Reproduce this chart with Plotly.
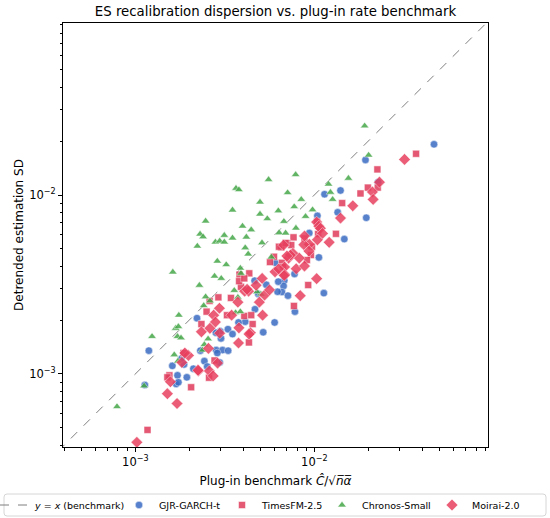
import plotly.graph_objects as go

# ---- data ----
garch_x = [46.6e-3, 19.3e-3, 22.7e-3, 14.0e-3, 11.4e-3, 13.5e-3, 19.5e-3, 10.4e-3, 9.37e-3, 14.7e-3,
           10.6e-3, 7.75e-3, 6.79e-3, 6.73e-3, 6.59e-3, 7.12e-3, 11.3e-3, 7.79e-3, 6.29e-3, 5.39e-3,
           6.23e-3, 6.00e-3, 5.18e-3, 4.64e-3, 4.66e-3, 4.11e-3, 3.77e-3, 3.29e-3, 2.98e-3, 2.82e-3,
           3.01e-3, 6.05e-3, 3.49e-3, 2.83e-3, 3.07e-3, 3.30e-3, 2.87e-3, 2.31e-3, 2.43e-3, 2.52e-3,
           2.96e-3, 2.11e-3, 1.87e-3, 1.61e-3, 1.72e-3, 1.69e-3, 1.74e-3, 1.94e-3, 2.21e-3, 1.19e-3,
           1.13e-3, 1.81e-3, 4.86e-3]
garch_y = [19.2e-3, 15.7e-3, 11.8e-3, 10.6e-3, 10.1e-3, 8.0e-3, 7.46e-3, 7.65e-3, 6.13e-3, 5.67e-3,
           4.48e-3, 3.62e-3, 3.33e-3, 3.10e-3, 2.87e-3, 2.74e-3, 2.83e-3, 2.23e-3, 3.28e-3, 3.15e-3,
           2.88e-3, 1.94e-3, 1.71e-3, 3.32e-3, 2.30e-3, 1.96e-3, 1.94e-3, 1.78e-3, 1.73e-3, 1.70e-3,
           1.58e-3, 4.18e-3, 1.67e-3, 1.36e-3, 1.36e-3, 1.35e-3, 1.31e-3, 1.35e-3, 1.18e-3, 1.10e-3,
           1.16e-3, 1.07e-3, 1.13e-3, 1.11e-3, 0.983e-3, 0.879e-3, 0.899e-3, 0.958e-3, 2.05e-3, 1.35e-3,
           0.868e-3, 1.22e-3, 2.80e-3]

timesfm_x = [37.0e-3, 22.5e-3, 19.9e-3, 22.6e-3, 18.1e-3, 14.3e-3, 13.2e-3, 10.35e-3, 10.5e-3, 7.65e-3,
             7.06e-3, 7.43e-3, 6.53e-3, 9.70e-3, 9.57e-3, 9.09e-3, 6.59e-3, 9.24e-3, 7.69e-3, 8.81e-3,
             6.34e-3, 4.33e-3, 3.42e-3, 3.89e-3, 2.60e-3, 2.50e-3, 2.34e-3, 4.06e-3, 4.52e-3, 5.95e-3,
             6.68e-3, 6.91e-3, 5.65e-3, 3.82e-3, 3.80e-3, 2.91e-3, 2.77e-3, 2.58e-3, 1.86e-3, 1.55e-3,
             1.51e-3, 2.05e-3, 1.17e-3, 4.31e-3, 4.44e-3, 4.06e-3, 3.25e-3]
timesfm_y = [17.0e-3, 13.9e-3, 11.0e-3, 11.0e-3, 10.2e-3, 9.01e-3, 6.07e-3, 7.09e-3, 6.05e-3, 5.80e-3,
             5.37e-3, 5.25e-3, 5.10e-3, 5.14e-3, 4.62e-3, 4.33e-3, 4.18e-3, 3.14e-3, 2.40e-3, 5.72e-3,
             5.14e-3, 3.65e-3, 2.66e-3, 3.07e-3, 2.56e-3, 2.23e-3, 1.90e-3, 2.11e-3, 1.90e-3, 4.52e-3,
             3.96e-3, 5.39e-3, 4.22e-3, 3.59e-3, 3.30e-3, 2.68e-3, 1.19e-3, 0.953e-3, 1.31e-3, 0.983e-3,
             0.958e-3, 0.843e-3, 0.487e-3, 1.50e-3, 2.13e-3, 3.42e-3, 2.13e-3]

chronos_x = [5.55e-3, 3.65e-3, 3.79e-3, 4.97e-3, 3.49e-3, 6.29e-3, 4.97e-3, 5.46e-3, 2.47e-3, 3.97e-3,
             4.44e-3, 2.30e-3, 2.39e-3, 3.14e-3, 3.49e-3, 4.17e-3, 2.80e-3, 2.96e-3, 3.14e-3, 5.10e-3,
             2.22e-3, 4.11e-3, 4.27e-3, 2.87e-3, 3.22e-3, 1.62e-3, 2.77e-3, 3.02e-3, 3.89e-3, 2.28e-3,
             3.57e-3, 2.47e-3, 6.36e-3, 6.91e-3, 5.75e-3, 7.09e-3, 6.76e-3, 3.86e-3, 1.75e-3, 1.68e-3,
             1.74e-3, 1.72e-3, 1.80e-3, 1.24e-3, 2.41e-3, 3.63e-3, 3.86e-3, 3.74e-3, 1.65e-3, 1.73e-3,
             1.12e-3, 2.55e-3, 2.43e-3, 2.37e-3, 0.790e-3, 19.1e-3, 20.1e-3, 7.86e-3, 15.5e-3, 12.0e-3,
             12.3e-3, 12.65e-3, 8.45e-3, 7.72e-3, 9.77e-3, 8.93e-3, 7.89e-3, 5.03e-3, 2.61e-3, 4.78e-3]
chronos_y = [12.2e-3, 10.9e-3, 10.7e-3, 9.13e-3, 8.24e-3, 8.16e-3, 7.82e-3, 7.37e-3, 7.15e-3, 6.70e-3,
             6.39e-3, 6.05e-3, 5.84e-3, 5.95e-3, 5.75e-3, 5.82e-3, 5.46e-3, 5.53e-3, 5.46e-3, 5.41e-3,
             5.18e-3, 5.07e-3, 4.68e-3, 4.27e-3, 4.08e-3, 3.71e-3, 3.52e-3, 3.42e-3, 3.65e-3, 3.13e-3,
             2.93e-3, 2.70e-3, 6.15e-3, 6.13e-3, 4.50e-3, 10.3e-3, 7.12e-3, 3.90e-3, 2.13e-3, 1.80e-3,
             1.84e-3, 1.62e-3, 1.59e-3, 1.62e-3, 2.41e-3, 2.20e-3, 2.23e-3, 2.68e-3, 1.28e-3, 1.18e-3,
             0.857e-3, 1.57e-3, 1.46e-3, 1.36e-3, 0.657e-3, 24.3e-3, 16.7e-3, 13.0e-3, 12.4e-3, 11.5e-3,
             10.35e-3, 9.45e-3, 9.45e-3, 8.60e-3, 8.27e-3, 7.59e-3, 6.53e-3, 2.79e-3, 2.56e-3, 2.88e-3]

moirai_x = [31.9e-3, 23.1e-3, 21.1e-3, 21.3e-3, 16.4e-3, 14.0e-3, 10.3e-3, 10.6e-3, 10.8e-3, 11.1e-3,
            10.4e-3, 12.1e-3, 9.37e-3, 8.74e-3, 9.33e-3, 7.59e-3, 7.18e-3, 8.24e-3, 6.82e-3, 7.92e-3,
            8.81e-3, 6.82e-3, 10.3e-3, 8.34e-3, 8.81e-3, 6.73e-3, 7.36e-3, 6.03e-3, 6.32e-3, 5.27e-3,
            5.11e-3, 4.93e-3, 4.08e-3, 4.29e-3, 3.74e-3, 5.14e-3, 4.39e-3, 3.79e-3, 3.45e-3, 2.74e-3,
            2.95e-3, 2.80e-3, 2.34e-3, 2.61e-3, 7.03e-3, 6.79e-3, 5.62e-3, 4.73e-3, 2.56e-3, 2.96e-3,
            3.77e-3, 4.32e-3, 2.88e-3, 2.59e-3, 2.72e-3, 2.25e-3, 1.98e-3, 1.89e-3, 1.82e-3, 1.57e-3,
            1.51e-3, 1.71e-3, 1.02e-3, 2.24e-3, 4.21e-3]
moirai_y = [15.8e-3, 11.8e-3, 10.4e-3, 9.45e-3, 8.70e-3, 7.43e-3, 7.06e-3, 6.70e-3, 6.51e-3, 6.10e-3,
            5.62e-3, 5.44e-3, 5.30e-3, 5.28e-3, 4.86e-3, 4.72e-3, 4.44e-3, 4.44e-3, 3.96e-3, 3.87e-3,
            4.01e-3, 3.60e-3, 3.41e-3, 2.74e-3, 5.90e-3, 5.25e-3, 4.62e-3, 3.72e-3, 3.86e-3, 2.76e-3,
            3.42e-3, 2.52e-3, 2.90e-3, 2.90e-3, 2.52e-3, 2.13e-3, 1.70e-3, 1.81e-3, 2.13e-3, 2.13e-3,
            2.33e-3, 1.95e-3, 1.72e-3, 1.80e-3, 4.56e-3, 3.55e-3, 2.95e-3, 3.13e-3, 1.39e-3, 1.69e-3,
            1.49e-3, 1.67e-3, 1.15e-3, 1.04e-3, 0.975e-3, 1.04e-3, 1.27e-3, 1.31e-3, 1.16e-3, 0.905e-3,
            0.776e-3, 0.684e-3, 0.415e-3, 1.05e-3, 2.97e-3]

bench_line = [1e-4, 1e-1]

major_ticks = [1e-3, 1e-2]
major_labels = ["10<sup>\u22123</sup>", "10<sup>\u22122</sup>"]
minor_ticks = [k * 10.0 ** e for e in (-4, -3, -2) for k in range(2, 10)]

FONT = "DejaVu Sans"
W, H = 550, 518
ML, MR, MT, MB = 63, 62, 23, 71
PW, PH = W - ML - MR, H - MT - MB


def px_x(p):  # canvas pixel -> paper x
    return (p - ML) / PW


def px_y(p):  # canvas pixel -> paper y
    return (H - MB - p) / PH


fig = go.Figure()
fig.add_trace(go.Scatter(x=bench_line, y=bench_line, mode="lines",
                         line=dict(color="#7f7f7f", width=1, dash="dash"),
                         name="<i>y</i> = <i>x</i> (benchmark)", legend="legend", legendwidth=108))

series = [
    ("GJR-GARCH-t", garch_x, garch_y, "circle", "#3a6cc3", 7.5, 58),
    ("TimesFM-2.5", timesfm_x, timesfm_y, "square", "#e03c5c", 7, 55),
    ("Chronos-Small", chronos_x, chronos_y, "triangle-up", "#45a748", 7.5, 65),
    ("Moirai-2.0", moirai_x, moirai_y, "diamond", "#e8405f", 9, 50),
]
for name, xs, ys, sym, col, sz, lw in series:
    fig.add_trace(go.Scatter(x=xs, y=ys, mode="markers", name=name, legend="legend2",
                             legendwidth=lw,
                             marker=dict(symbol=sym, color=col, size=sz, opacity=0.85,
                                         line=dict(color="white", width=0.5))))

axis_common = dict(type="log", showgrid=False, zeroline=False, automargin=False,
                   showline=True, linecolor="black", linewidth=1, mirror=True,
                   ticks="outside", ticklen=4, tickwidth=1, tickcolor="black",
                   tickmode="array", tickvals=major_ticks, ticktext=major_labels,
                   tickfont=dict(family=FONT, size=11.5, color="black"),
                   minor=dict(tickmode="array", tickvals=minor_ticks, ticks="outside",
                              ticklen=2.5, tickwidth=0.8, tickcolor="black", showgrid=False))

legend_common = dict(orientation="h", xanchor="left", yanchor="middle", y=px_y(505),
                     bgcolor="rgba(0,0,0,0)", borderwidth=0,
                     font=dict(family=FONT, size=9.5, color="black"), itemwidth=30)

# rounded legend frame
x0, x1, y0, y1 = px_x(4), px_x(546), px_y(516), px_y(494)
rx, ry = 3 / PW, 3 / PH
frame = (f"M {x0+rx},{y1} L {x1-rx},{y1} Q {x1},{y1} {x1},{y1-ry} L {x1},{y0+ry} "
         f"Q {x1},{y0} {x1-rx},{y0} L {x0+rx},{y0} Q {x0},{y0} {x0},{y0+ry} "
         f"L {x0},{y1-ry} Q {x0},{y1} {x0+rx},{y1} Z")

fig.update_layout(
    width=W, height=H,
    margin=dict(l=ML, r=MR, t=MT, b=MB, autoexpand=False),
    paper_bgcolor="white", plot_bgcolor="white",
    font=dict(family=FONT, size=11, color="black"),
    title=dict(text="ES recalibration dispersion vs. plug-in rate benchmark",
               x=0.5, xref="paper", xanchor="center", y=1 - 11 / H, yref="container",
               yanchor="middle", font=dict(family=FONT, size=13.3, color="black")),
    xaxis=dict(axis_common, range=[-3.404, -1.030],
               title=dict(text="Plug-in benchmark <i>Ĉ</i>/√<i>n̅α̅</i>", standoff=8,
                          font=dict(family=FONT, size=12))),
    yaxis=dict(axis_common, range=[-3.408, -1.039],
               title=dict(text="Detrended estimation SD", standoff=2,
                          font=dict(family=FONT, size=12))),
    legend=dict(legend_common, x=px_x(-5)),
    legend2=dict(legend_common, x=px_x(119)),
    shapes=[dict(type="path", path=frame, xref="paper", yref="paper",
                 line=dict(color="#cccccc", width=0.8), fillcolor="white", layer="below")],
    showlegend=True,
)

fig.write_html("out.html", config={"displayModeBar": False},
               post_script="document.body.style.margin='0';")
